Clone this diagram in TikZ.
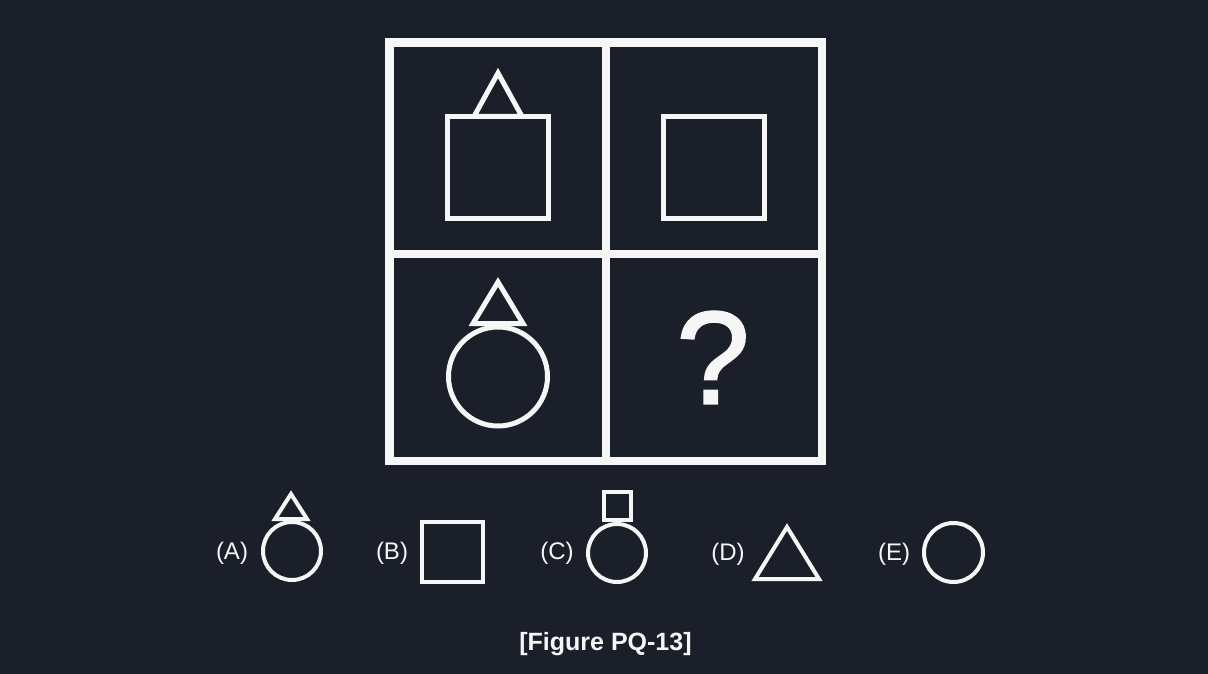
\documentclass[tikz,border=0pt]{standalone}
\usepackage{fontspec}
\setmainfont{Liberation Sans}
\newfontfamily\qmfont[FakeBold=1.6]{Liberation Sans}
\definecolor{bgnavy}{RGB}{26,31,41}
\definecolor{lineW}{RGB}{246,246,246}
\begin{document}
\begin{tikzpicture}[x=1pt,y=-1pt,
  gridline/.style={draw=lineW,line width=8.5pt,line join=miter},
  bigshape/.style={draw=lineW,line width=5pt,line join=miter},
  optshape/.style={draw=lineW,line width=4pt,line join=miter},
  optlabel/.style={text=lineW,font=\fontsize{24}{24}\selectfont,inner sep=0pt}]
\fill[bgnavy] (0,0) rectangle (1208,674);
\useasboundingbox (0,0) rectangle (1208,674);
% grid
\draw[gridline] (389.5,42.5) rectangle (822,461);
\draw[gridline] (606,42.5) -- (606,461);
\draw[gridline] (389.5,254) -- (822,254);
% top-left: triangle over square
\draw[bigshape] (447.5,116.5) rectangle (548.5,218.5);
\draw[bigshape] (474,116.5) -- (498,73) -- (522,116.5) -- cycle;
% top-right: square
\draw[bigshape] (663.5,116.5) rectangle (764.5,218.5);
% bottom-left: triangle over circle
\draw[bigshape] (498,376.5) circle (49.5);
\draw[bigshape] (473,323.5) -- (498,282) -- (523,323.5) -- cycle;
% bottom-right: question mark
\node[text=lineW,font=\qmfont\fontsize{132}{132}\selectfont,inner sep=0pt] (qm) at (713,357.5) {?};
% options
\node[optlabel] (la) at (232,553.5) {(A)};
\draw[optshape] (292,551) circle (29);
\draw[optshape] (275,519) -- (291,494) -- (307,519) -- cycle;
\node[optlabel] (lb) at (392,553.5) {(B)};
\draw[optshape] (422,522) rectangle (483,582);
\node[optlabel] (lc) at (557,553.5) {(C)};
\draw[optshape] (617,553) circle (29);
\draw[optshape] (603.5,492) rectangle (631,520);
\node[optlabel] (ld) at (728,554.5) {(D)};
\draw[optshape] (755,579) -- (787,527) -- (819,579) -- cycle;
\node[optlabel] (le) at (894,554.5) {(E)};
\draw[optshape] (953.5,552.5) circle (29.5);
% caption
\node[text=lineW,font=\bfseries\fontsize{25}{25}\selectfont,inner sep=0pt] (cap) at (605.5,644) {[Figure PQ-13]};
\end{tikzpicture}
\end{document}
